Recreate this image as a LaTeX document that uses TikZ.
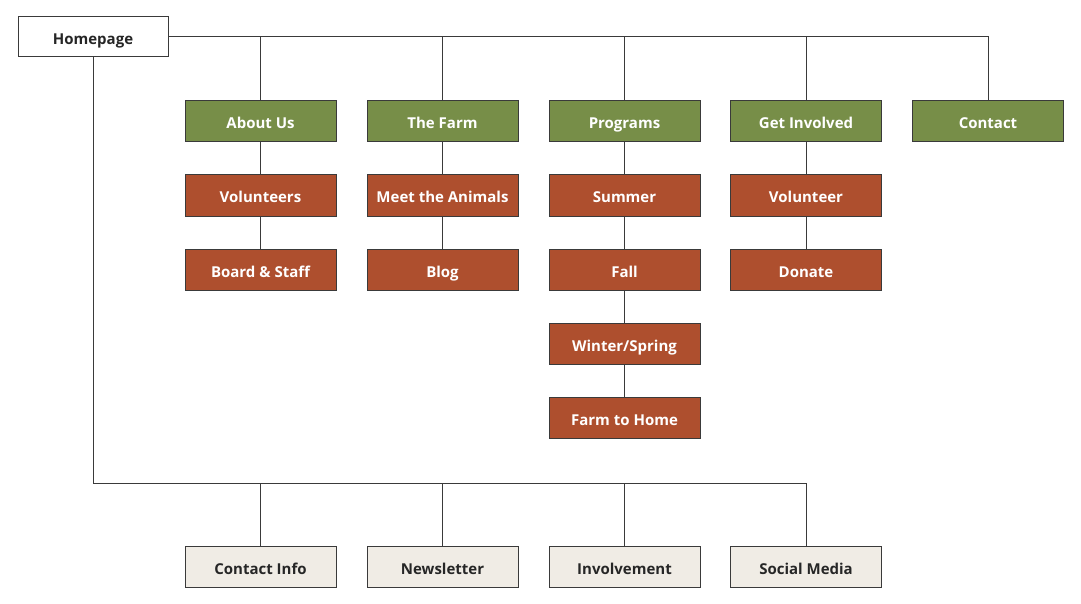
\documentclass[tikz,border=0pt]{standalone}
\usepackage{fontspec}
\setmainfont{Open Sans}
\definecolor{leaf}{HTML}{778E48}
\definecolor{brick}{HTML}{AE4F2E}
\definecolor{sand}{HTML}{F0ECE5}
\definecolor{edge}{HTML}{3A3A3A}
\begin{document}
\begin{tikzpicture}[
x=1pt,y=-1pt,
every node/.style={
draw=edge,
line width=1pt,
align=center,
minimum width=151pt,
minimum height=41pt,
text height=15pt,
text depth=0pt,
font=\fontsize{15}{18}\selectfont\bfseries
},
home/.style={fill=white,text=black!85,minimum width=150pt,minimum height=40pt},
section/.style={fill=leaf,text=white},
page/.style={fill=brick,text=white},
footer/.style={fill=sand,text=black!85},
link/.style={draw=edge,line width=1pt}
]
\useasboundingbox (0,0) rectangle (1081,604);

\node[home] (H) at (93,37)
{Homepage};

% sections
\node[section] (About) at (260.5,121.5) {About Us};
\node[section] (Farm) at (442.5,121.5) {The Farm};
\node[section] (Prog) at (624.5,121.5) {Programs};
\node[section] (Inv) at (806,121.5) {Get Involved};
\node[section] (Cont) at (988,121.5) {Contact};

% pages
\node[page] (Vols) at (260.5,195.5) {Volunteers};
\node[page] (Board) at (260.5,269.5) {Board \& Staff};
\node[page] (Animals) at (442.5,195.5) {Meet the Animals};
\node[page] (Blog) at (442.5,269.5) {Blog};
\node[page] (Summer) at (624.5,195.5) {Summer};
\node[page] (Fall) at (624.5,269.5) {Fall};
\node[page] (Winter) at (624.5,343.5) {Winter/Spring};
\node[page] (Home2) at (624.5,418) {Farm to Home};
\node[page] (Vol) at (806,195.5) {Volunteer};
\node[page] (Donate) at (806,269.5) {Donate};

% footer
\node[footer] (Info) at (260.5,566.5) {Contact Info};
\node[footer] (News) at (442.5,566.5) {Newsletter};
\node[footer] (Involve) at (624.5,566.5) {Involvement};
\node[footer] (Social) at (806,566.5) {Social Media};

\coordinate (bus) at (0,483);

\draw[link] (H.east) -| (Cont.north);
\draw[link] (About.north) -- (About.north |- H.east);
\draw[link] (Farm.north) -- (Farm.north |- H.east);
\draw[link] (Prog.north) -- (Prog.north |- H.east);
\draw[link] (Inv.north) -- (Inv.north |- H.east);

\draw[link] (About) -- (Vols);
\draw[link] (Vols) -- (Board);
\draw[link] (Farm) -- (Animals);
\draw[link] (Animals) -- (Blog);
\draw[link] (Prog) -- (Summer);
\draw[link] (Summer) -- (Fall);
\draw[link] (Fall) -- (Winter);
\draw[link] (Winter) -- (Home2);
\draw[link] (Inv) -- (Vol);
\draw[link] (Vol) -- (Donate);

\draw[link] (H.south) -- (H.south |- bus) -| (Social.north);
\draw[link] (Info.north) -- (Info.north |- bus);
\draw[link] (News.north) -- (News.north |- bus);
\draw[link] (Involve.north) -- (Involve.north |- bus);

\end{tikzpicture}
\end{document}
